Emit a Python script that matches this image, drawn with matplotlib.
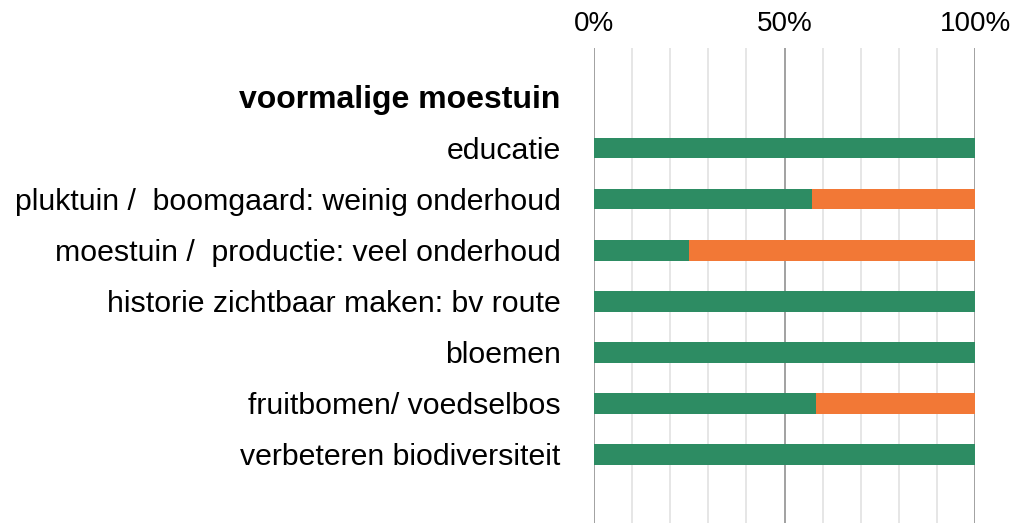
import matplotlib.pyplot as plt
from matplotlib.ticker import MultipleLocator

plt.rcParams['font.family'] = ['Liberation Sans', 'DejaVu Sans']

heading = "voormalige moestuin"
categories = [
    "educatie",
    "pluktuin /  boomgaard: weinig onderhoud",
    "moestuin /  productie: veel onderhoud",
    "historie zichtbaar maken: bv route",
    "bloemen",
    "fruitbomen/ voedselbos",
    "verbeteren biodiversiteit",
]
green_pct = [100, 57.1, 25.0, 100, 100, 58.3, 100]
orange_pct = [0, 42.9, 75.0, 0, 0, 41.7, 0]
x_ticks = [0, 50, 100]
x_ticklabels = ["0%", "50%", "100%"]

GREEN = "#2d8c63"
ORANGE = "#f27836"

fig = plt.figure(figsize=(10.15, 5.23), dpi=100)
ax = fig.add_axes([594 / 1015, 0, 381 / 1015, 1 - 48 / 523])

rows = list(range(1, len(categories) + 1))
ax.barh(rows, green_pct, height=0.41, color=GREEN, zorder=3)
ax.barh(rows, orange_pct, left=green_pct, height=0.41, color=ORANGE, zorder=3)

ax.set_xlim(0, 100)
ax.set_ylim(8.35, -0.96)

# light grid every 10%, darker lines at 0 / 50 / 100
ax.xaxis.set_minor_locator(MultipleLocator(10))
ax.grid(which="minor", axis="x", color="#e2e2e2", linewidth=1.2, zorder=1)
for v in x_ticks:
    ax.axvline(v, color="#9a9a9a", linewidth=1.3, zorder=2)

ax.set_xticks(x_ticks)
ax.set_xticklabels(x_ticklabels, fontsize=20)
ax.xaxis.tick_top()
ax.tick_params(axis="x", which="both", length=0, pad=8)

ax.set_yticks([0] + rows)
ax.set_yticklabels([heading] + categories, fontsize=21.8)
ax.get_yticklabels()[0].set_fontweight("bold")
ax.get_yticklabels()[0].set_fontsize(23)
ax.tick_params(axis="y", length=0, pad=24)

for s in ax.spines.values():
    s.set_visible(False)

fig.savefig("out.png", dpi=100, facecolor="white")
